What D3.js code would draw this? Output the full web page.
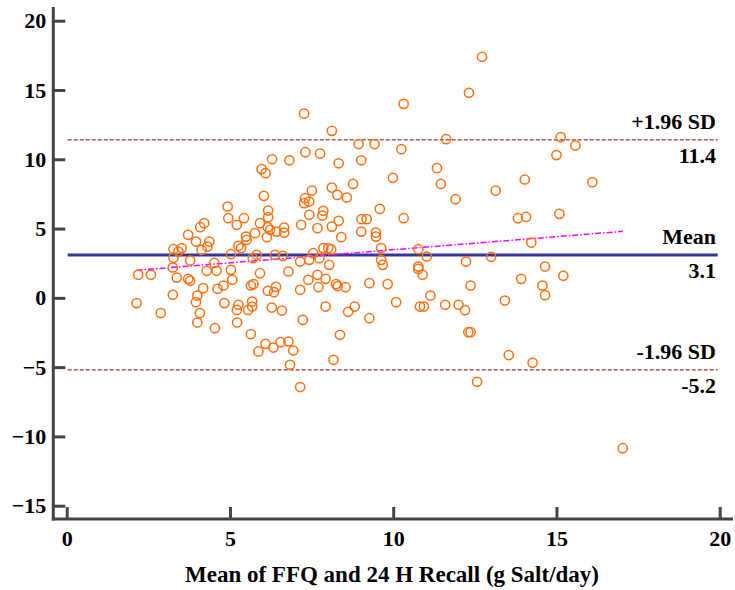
<!DOCTYPE html>
<html>
<head>
<meta charset="utf-8">
<script src="https://cdn.jsdelivr.net/npm/d3@7"></script>
<style>
  html, body { margin: 0; padding: 0; background: #fff; }
  svg { display: block; }
  svg text { font-family: "Liberation Serif", "Times New Roman", serif !important; font-weight: bold; fill: #000; }
</style>
</head>
<body>
<svg id="chart" width="735" height="590"></svg>
<script>
// Bland-Altman: mean of FFQ and 24 h recall (x) vs difference (y), g salt/day
const meanValues = [
  12.72, 12.32, 15.13, 15.58, 15.0, 11.62, 14.03, 16.1, 13.14, 11.91, 13.82, 14.07, 15.09, 14.23, 12.23, 13.0, 14.65,
  13.92, 15.21, 12.37, 14.57, 14.65, 13.42, 12.0, 12.2, 12.3, 12.37, 13.54, 14.27, 12.57, 17.03,
  6.79, 10.77, 10.9, 7.4, 7.68, 7.93, 7.71, 7.15, 8.25, 8.3, 8.54, 9.27, 9.83, 10.09, 11.14, 10.82, 10.94, 11.59,
  7.93, 8.62, 8.82, 9.27, 7.23, 8.37, 6.94, 8.17, 7.15,
  7.27, 10.32, 8.12, 8.94, 9.43, 10.25, 7.31, 7.76, 6.82, 8.33, 9.02, 11.34, 11.46, 9.99, 8.77, 8.12, 8.29, 8.58,
  7.51, 7.3, 7.43, 7.27, 9.59, 7.43, 7.86, 7.83, 7.18, 7.68, 8.12, 8.33, 9.03, 9.19, 10.32, 8.41, 9.02, 9.47, 9.47,
  6.66, 6.66, 7.55, 7.86, 8.01, 8.1, 9.63, 10.77, 11.03, 9.63, 9.68, 7.15, 7.43, 7.74, 8.04, 6.62, 10.77,
  6.29, 5.97, 6.09, 6.04, 4.93, 6.17, 4.95, 5.43, 6.17, 5.21, 5.92, 4.21, 4.09, 6.16, 6.23, 6.43, 5.77, 5.49, 5.51,
  6.13, 3.72, 3.96, 4.37, 4.31, 5.26, 5.34, 3.27, 3.52, 3.42, 4.13, 5.03, 5.7, 5.82, 6.38, 3.27, 3.78,
  2.19, 2.58, 3.25, 3.37, 3.72, 3.78, 4.18, 4.0, 3.96, 4.29, 4.59, 4.52, 5.03, 5.07, 4.8, 4.62, 3.25, 2.14, 2.88,
  4.08, 4.0, 4.83, 4.54, 5.26, 5.21, 5.56, 5.68, 5.68, 5.22, 5.64, 5.72, 5.92, 6.16, 6.35, 6.41, 6.28, 6.59, 5.64,
  6.09, 5.87, 6.33, 6.55, 6.79, 6.84
];
const diffValues = [
  17.4, 14.8, 11.6, 11.0, 10.3, 11.45, 8.54, 8.35, 7.74, 7.12, 5.75, 5.84, 6.06, 3.99, 2.62, 2.96, 2.26,
  1.37, 1.59, 0.89, 0.89, 0.19, -0.19, -0.5, -0.89, -2.48, -2.48, -4.13, -4.69, -6.06, -10.85,
  1.9, 2.09, 1.66, 1.3, 1.66, 1.37, 0.77, 0.58, 0.99, 0.85, 0.77, 1.06, 0.99, -0.31, 0.17, -0.63, -0.63, -0.5,
  -0.63, -1.01, -0.63, -1.47, -1.59, -2.67, -3.8, -4.47, -6.44,
  13.3, 14.0, 12.05, 11.1, 11.1, 10.73, 10.51, 10.41, 9.93, 9.71, 9.93, 9.36, 8.22, 8.66, 8.22, 7.96, 7.43, 7.24,
  7.74, 7.19, 6.95, 6.83, 6.42, 5.99, 6.28, 5.94, 5.27, 5.03, 5.14, 5.56, 5.68, 5.68, 5.75, 4.38, 4.78, 4.71, 4.42,
  5.07, 4.71, 3.22, 3.59, 3.59, 3.5, 3.59, 3.51, 2.98, 2.74, 2.38, 2.62, 2.74, 2.86, 2.38, 3.03, 2.26,
  10.0, 9.29, 9.0, 7.36, 6.59, 6.3, 5.75, 5.75, 5.82, 5.27, 5.39, 5.39, 5.1, 5.1, 4.91, 4.78, 4.67, 4.42, 4.18,
  4.38, 4.55, 4.06, 4.06, 3.7, 3.75, 3.59, 3.51, 3.59, 3.34, 3.46, 3.15, 2.86, 3.1, 3.1, 2.9, 2.69,
  1.66, 1.66, 2.19, 1.46, 1.37, 1.23, 0.7, 0.17, -0.31, 1.95, 1.95, 2.52, 2.02, 1.3, 0.89, 0.65, 0.22, -0.38, -1.1,
  -1.1, -1.78, -0.38, -2.19, -0.5, -0.87, -0.87, -0.27, -0.63, -1.78, 0.89, 0.99, 1.78, 0.51, 0.41, 0.79, -0.7, -0.92, -2.62,
  -3.32, -3.87, -3.59, -3.2, -3.15, -4.83
];

// Agreement statistics (as labelled)
const limitNames = ["+1.96 SD", "Mean", "-1.96 SD"];
const limitValues = [11.4, 3.1, -5.2];
const limitLabels = ["11.4", "3.1", "-5.2"];

// Regression of difference on mean: [intercept, slope]
const regressionCoef = [1.585, 0.1886];

const xTicks = [0, 5, 10, 15, 20];
const yTicks = [-15, -10, -5, 0, 5, 10, 15, 20];
const xTitle = "Mean of FFQ and 24 H Recall (g Salt/day)";

const points = meanValues.map((m, i) => ({ x: m, y: diffValues[i] }));

const svg = d3.select("#chart");
const x = d3.scaleLinear().domain([0, 20]).range([66.7, 719.7]);
const y = d3.scaleLinear().domain([-15, 20]).range([505.7, 20.7]);

const axisColor = "#444";
const axisLeftX = 53.3, axisBottomY = 519;
const plotRight = 733, plotTop = 7;
const fontSize = 22;

// Limit lines
const limitG = svg.append("g");
limitG.selectAll("line.limit")
  .data(limitValues)
  .join("line")
  .attr("class", "limit")
  .attr("x1", x(0) + 1).attr("x2", x(20) - 2)
  .attr("y1", d => y(d)).attr("y2", d => y(d))
  .attr("stroke", (d, i) => i === 1 ? "#35359a" : "#800000")
  .attr("stroke-width", (d, i) => i === 1 ? 3 : 1)
  .attr("stroke-dasharray", (d, i) => i === 1 ? null : "4,2");

limitG.selectAll("text.name")
  .data(limitNames)
  .join("text")
  .attr("class", "name")
  .attr("x", 716).attr("y", (d, i) => y(limitValues[i]) - 11)
  .attr("text-anchor", "end")
  .style("font-size", fontSize + "px")
  .text(d => d);

limitG.selectAll("text.val")
  .data(limitLabels)
  .join("text")
  .attr("class", "val")
  .attr("x", 716).attr("y", (d, i) => y(limitValues[i]) + 23)
  .attr("text-anchor", "end")
  .style("font-size", fontSize + "px")
  .text(d => d);

// Regression line across the observed range of means
const xExt = d3.extent(meanValues);
svg.append("path")
  .datum(xExt.map(v => [v, regressionCoef[0] + regressionCoef[1] * v]))
  .attr("d", d3.line().x(d => x(d[0])).y(d => y(d[1])))
  .attr("fill", "none")
  .attr("stroke", "#ff00ff")
  .attr("stroke-width", 1.5)
  .attr("stroke-dasharray", "6,2,1.5,2");

// Scatter points
svg.append("g").selectAll("circle")
  .data(points)
  .join("circle")
  .attr("cx", d => x(d.x))
  .attr("cy", d => y(d.y))
  .attr("r", 4.6)
  .attr("fill", "none")
  .attr("stroke", "#ff6f0f")
  .attr("stroke-width", 1.5);

// Axes
const yAxis = svg.append("g")
  .attr("transform", `translate(${axisLeftX},0)`)
  .call(d3.axisLeft(y).tickValues(yTicks).tickSize(-12).tickPadding(8).tickFormat(d3.format("d")));
yAxis.select(".domain").remove();
yAxis.selectAll(".tick line").attr("stroke", axisColor).attr("stroke-width", 3);
yAxis.selectAll(".tick text")
  .style("font-size", fontSize + "px")
  .attr("fill", "#000")
  .attr("x", -7);

const xAxis = svg.append("g")
  .attr("transform", `translate(0,${axisBottomY})`)
  .call(d3.axisBottom(x).tickValues(xTicks).tickSize(-12).tickFormat(d3.format("d")));
xAxis.select(".domain").remove();
xAxis.selectAll(".tick line").attr("stroke", axisColor).attr("stroke-width", 3);
xAxis.selectAll(".tick text")
  .style("font-size", fontSize + "px")
  .attr("fill", "#000")
  .attr("y", 27)
  .attr("dy", 0);

// Axis lines
svg.append("line")
  .attr("x1", axisLeftX).attr("x2", axisLeftX)
  .attr("y1", plotTop).attr("y2", axisBottomY + 1.5)
  .attr("stroke", axisColor).attr("stroke-width", 3);
svg.append("line")
  .attr("x1", axisLeftX - 1.5).attr("x2", plotRight)
  .attr("y1", axisBottomY).attr("y2", axisBottomY)
  .attr("stroke", axisColor).attr("stroke-width", 3);

// Axis title
svg.append("text")
  .attr("x", 392).attr("y", 582)
  .attr("text-anchor", "middle")
  .style("font-size", "23px")
  .text(xTitle);
</script>
</body>
</html>
